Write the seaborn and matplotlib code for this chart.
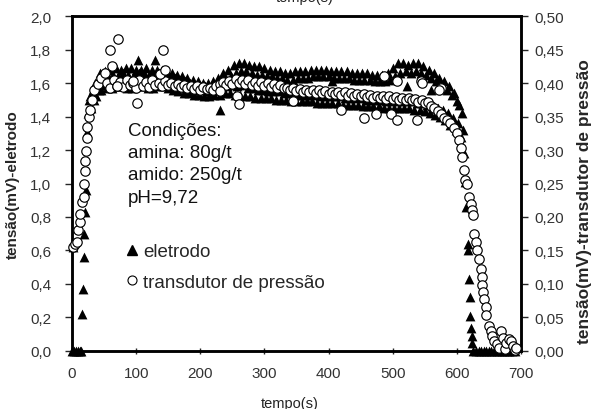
import matplotlib
matplotlib.use("Agg")
import matplotlib.pyplot as plt
from matplotlib.ticker import FuncFormatter, MultipleLocator
from matplotlib.lines import Line2D
import seaborn as sns

sns.set_style("white")
plt.rcParams["font.family"] = ["Liberation Sans", "DejaVu Sans"]

# ---- eletrodo (mV), left axis ----
eletrodo_t_inicio = [0, 3, 6, 9, 12, 14, 1, 16, 17, 18, 19, 21, 22, 23, 25, 27]
eletrodo_v_inicio = [0.0, 0.0, 0.0, 0.0, 0.0, 0.0, 0.62, 0.22, 0.37, 0.56,
                     0.70, 0.83, 0.96, 1.31, 1.42, 1.50]

# logged every 2 s while the signal sits on its plateau
eletrodo_t_patamar = list(range(28, 612, 2))
eletrodo_v_patamar = [
    1.52, 1.45, 1.56, 1.50, 1.60, 1.52, 1.62, 1.56,   # 28
    1.66, 1.56, 1.63, 1.59, 1.67, 1.57, 1.64, 1.60,   # 44
    1.68, 1.57, 1.65, 1.61, 1.69, 1.58, 1.64, 1.60,   # 60
    1.68, 1.58, 1.66, 1.61, 1.69, 1.57, 1.65, 1.62,   # 76
    1.69, 1.57, 1.65, 1.60, 1.68, 1.58, 1.66, 1.61,   # 92
    1.68, 1.58, 1.66, 1.61, 1.69, 1.57, 1.65, 1.60,   # 108
    1.68, 1.57, 1.65, 1.60, 1.68, 1.58, 1.66, 1.61,   # 124
    1.68, 1.58, 1.65, 1.61, 1.67, 1.57, 1.64, 1.60,   # 140
    1.66, 1.56, 1.63, 1.59, 1.65, 1.55, 1.62, 1.58,   # 156
    1.64, 1.54, 1.61, 1.57, 1.63, 1.54, 1.60, 1.57,   # 172
    1.62, 1.53, 1.59, 1.56, 1.61, 1.53, 1.59, 1.56,   # 188
    1.60, 1.52, 1.58, 1.55, 1.60, 1.52, 1.58, 1.55,   # 204
    1.61, 1.53, 1.59, 1.56, 1.63, 1.53, 1.60, 1.57,   # 220
    1.66, 1.54, 1.62, 1.58, 1.68, 1.54, 1.64, 1.59,   # 236
    1.71, 1.53, 1.66, 1.58, 1.72, 1.53, 1.67, 1.59,   # 252
    1.72, 1.52, 1.67, 1.57, 1.71, 1.52, 1.66, 1.57,   # 268
    1.70, 1.51, 1.65, 1.56, 1.70, 1.51, 1.65, 1.56,   # 284
    1.69, 1.51, 1.64, 1.55, 1.68, 1.51, 1.64, 1.55,   # 300
    1.67, 1.50, 1.63, 1.55, 1.67, 1.50, 1.63, 1.54,   # 316
    1.66, 1.50, 1.62, 1.54, 1.66, 1.49, 1.62, 1.53,   # 332
    1.67, 1.49, 1.63, 1.53, 1.67, 1.49, 1.63, 1.53,   # 348
    1.67, 1.49, 1.63, 1.53, 1.68, 1.49, 1.64, 1.53,   # 364
    1.68, 1.48, 1.64, 1.52, 1.68, 1.48, 1.64, 1.52,   # 380
    1.68, 1.48, 1.64, 1.52, 1.67, 1.48, 1.63, 1.52,   # 396
    1.67, 1.48, 1.63, 1.52, 1.67, 1.47, 1.63, 1.51,   # 412
    1.67, 1.47, 1.63, 1.51, 1.66, 1.47, 1.62, 1.51,   # 428
    1.66, 1.47, 1.62, 1.51, 1.66, 1.46, 1.62, 1.50,   # 444
    1.66, 1.46, 1.62, 1.50, 1.65, 1.46, 1.61, 1.50,   # 460
    1.65, 1.46, 1.61, 1.50, 1.65, 1.45, 1.61, 1.49,   # 476
    1.66, 1.45, 1.62, 1.49, 1.69, 1.45, 1.64, 1.49,   # 492
    1.72, 1.45, 1.66, 1.49, 1.72, 1.45, 1.67, 1.49,   # 508
    1.71, 1.45, 1.66, 1.49, 1.72, 1.44, 1.67, 1.48,   # 524
    1.72, 1.44, 1.66, 1.48, 1.70, 1.43, 1.65, 1.47,   # 540
    1.68, 1.42, 1.63, 1.46, 1.66, 1.41, 1.61, 1.45,   # 556
    1.63, 1.40, 1.58, 1.44, 1.61, 1.38, 1.56, 1.42,   # 572
    1.58, 1.35, 1.53, 1.39, 1.54, 1.32, 1.49, 1.36,   # 588
    1.47, 1.28, 1.42, 1.32,                           # 604
]

eletrodo_t_queda = [611, 613, 615, 617, 618, 619, 620, 621, 622, 623, 624,
                    626, 630, 634, 638, 642, 646, 650, 654, 658, 662, 666,
                    670, 674, 678, 682, 686, 690]
eletrodo_v_queda = [1.18, 1.01, 0.86, 0.64, 0.60, 0.43, 0.32, 0.21, 0.14, 0.09, 0.05,
                    0.0, 0.0, 0.0, 0.0, 0.0, 0.0, 0.0, 0.0, 0.0, 0.0, 0.0,
                    0.0, 0.0, 0.0, 0.0, 0.0, 0.0]

eletrodo_t_isolados = [103, 129, 230, 406, 523, 560]
eletrodo_v_isolados = [1.74, 1.74, 1.44, 1.61, 1.58, 1.56]

# ---- transdutor de pressão (mV), right axis ----
transdutor_t_inicio = [2, 5, 8, 10, 12, 13, 15, 18, 19, 20, 21, 22, 23, 24, 26,
                       28, 31, 35, 40, 46, 52]
transdutor_v_inicio = [0.155, 0.160, 0.163, 0.180, 0.193, 0.205, 0.222, 0.230,
                       0.250, 0.268, 0.283, 0.298, 0.318, 0.335, 0.350, 0.360,
                       0.375, 0.390, 0.398, 0.408, 0.415]

transdutor_t_patamar = list(range(55, 565, 5))
transdutor_v_patamar = [
    0.400, 0.393, 0.405, 0.396, 0.401, 0.394, 0.404, 0.397, 0.400, 0.393,
    0.405, 0.396, 0.401, 0.394, 0.404, 0.397, 0.400, 0.395, 0.403, 0.397,
    0.400, 0.396, 0.399, 0.394, 0.397, 0.392, 0.396, 0.391, 0.395, 0.390,
    0.394, 0.391, 0.393, 0.390,
    0.395, 0.398, 0.401, 0.397, 0.403, 0.399, 0.406, 0.400, 0.405, 0.398,
    0.404, 0.397, 0.402, 0.396, 0.401, 0.395, 0.400, 0.394, 0.399, 0.393,
    0.397, 0.392,
    0.393, 0.389, 0.392, 0.388, 0.391, 0.387, 0.390, 0.386, 0.390, 0.385,
    0.389, 0.385, 0.388, 0.384, 0.387, 0.383, 0.386, 0.382, 0.386, 0.381,
    0.385, 0.381, 0.384, 0.380,
    0.383, 0.379, 0.382, 0.378, 0.381, 0.377, 0.380, 0.376, 0.380, 0.376,
    0.379, 0.375, 0.378, 0.375, 0.377, 0.374, 0.376, 0.372, 0.374, 0.370,
    0.371, 0.366,
]

transdutor_t_queda = [565, 570, 575, 580, 585, 590, 595, 600, 603, 606, 608,
                      611, 613, 616, 619, 622, 624, 625, 627, 630, 631, 635,
                      638, 639, 640, 641, 642, 645, 646, 650, 653, 655, 658,
                      662, 665, 669, 672, 675, 676, 681, 684, 688, 690, 692]
transdutor_v_queda = [0.362, 0.358, 0.353, 0.348, 0.345, 0.340, 0.333, 0.325,
                      0.315, 0.303, 0.290, 0.270, 0.255, 0.250, 0.230, 0.220,
                      0.210, 0.203, 0.175, 0.163, 0.150, 0.138, 0.123, 0.110,
                      0.098, 0.088, 0.078, 0.065, 0.053, 0.038, 0.030, 0.023,
                      0.015, 0.010, 0.005, 0.030, 0.020, 0.003, 0.012, 0.018,
                      0.015, 0.008, 0.001, 0.004]

transdutor_t_isolados = [59, 72, 142, 101, 70, 62, 95, 137, 145, 230, 258, 261,
                         344, 420, 456, 474, 498, 507, 538, 487, 507, 544, 575,
                         546, 572]
transdutor_v_isolados = [0.450, 0.465, 0.450, 0.370, 0.395, 0.425, 0.403, 0.413,
                         0.420, 0.388, 0.380, 0.368, 0.373, 0.360, 0.348, 0.353,
                         0.353, 0.345, 0.345, 0.410, 0.403, 0.403, 0.393, 0.400,
                         0.390]

condicoes = "Condições:\namina: 80g/t\namido: 250g/t\npH=9,72"
rotulo_eletrodo = "eletrodo"
rotulo_transdutor = "transdutor de pressão"

eletrodo_t = eletrodo_t_inicio + eletrodo_t_patamar + eletrodo_t_queda + eletrodo_t_isolados
eletrodo_v = eletrodo_v_inicio + eletrodo_v_patamar + eletrodo_v_queda + eletrodo_v_isolados
transdutor_t = transdutor_t_inicio + transdutor_t_patamar + transdutor_t_queda + transdutor_t_isolados
transdutor_v = transdutor_v_inicio + transdutor_v_patamar + transdutor_v_queda + transdutor_v_isolados

fig = plt.figure(figsize=(5.92, 4.10), dpi=100)
ax = fig.add_axes([0.1216, 0.1415, 0.7584, 0.817])
ax2 = ax.twinx()

sns.scatterplot(x=eletrodo_t, y=eletrodo_v, marker="^", color="black", s=50,
                linewidth=0, clip_on=False, ax=ax, zorder=3)
sns.scatterplot(x=transdutor_t, y=transdutor_v, marker="o", facecolor="white",
                edgecolor="black", s=46, linewidth=0.85, clip_on=False, ax=ax2,
                zorder=3)

ax.set_xlim(0, 700)
ax.set_ylim(0, 2.0)
ax2.set_ylim(0, 0.5)

ax.xaxis.set_major_locator(MultipleLocator(100))
ax.yaxis.set_major_locator(MultipleLocator(0.2))
ax2.yaxis.set_major_locator(MultipleLocator(0.05))
ax.yaxis.set_major_formatter(FuncFormatter(lambda v, p: f"{v:.1f}".replace(".", ",")))
ax2.yaxis.set_major_formatter(FuncFormatter(lambda v, p: f"{v:.2f}".replace(".", ",")))

tick_color = "#333333"
ax.tick_params(axis="y", direction="out", length=5, width=1, pad=10,
               labelsize=11, labelcolor=tick_color, left=True)
ax.tick_params(axis="x", direction="inout", length=5, width=1, pad=8,
               labelsize=11, labelcolor=tick_color, bottom=True)
ax2.tick_params(axis="y", direction="out", length=5, width=1, pad=5,
                labelsize=11, labelcolor=tick_color, right=True)

for a in (ax, ax2):
    for sp in a.spines.values():
        sp.set_color("black")
        sp.set_linewidth(1.8)

ax.set_xlabel("tempo(s)", fontsize=10.5, color="#222222")
ax.xaxis.set_label_coords(0.486, -0.135)
ax.set_ylabel("tensão(mV)-eletrodo", fontsize=11, fontweight="bold")
ax.yaxis.set_label_coords(-0.116, 0.5)
ax2.set_ylabel("tensão(mV)-transdutor de pressão", fontsize=12.5, fontweight="bold")
ax2.yaxis.set_label_coords(1.125, 0.45)

ax.text(0.1247, 0.685, condicoes, transform=ax.transAxes, fontsize=13.5,
        ha="left", va="top", linespacing=1.42, color="#111111")

handles = [
    Line2D([], [], marker="^", color="black", linestyle="none", markersize=6.5),
    Line2D([], [], marker="o", markerfacecolor="white", markeredgecolor="black",
           markeredgewidth=0.8, linestyle="none", markersize=6.5),
]
ax2.legend(handles, [rotulo_eletrodo, rotulo_transdutor], loc="upper left",
           bbox_to_anchor=(0.118, 0.322), frameon=False, fontsize=13.5,
           handlelength=0.8, handletextpad=0.15, labelspacing=0.72,
           borderpad=0, borderaxespad=0)

fig.text(0.515, 1.005, "tempo(s)", ha="center", va="center", fontsize=10.5,
         color="#222222")

fig.savefig("out.png", dpi=100)
